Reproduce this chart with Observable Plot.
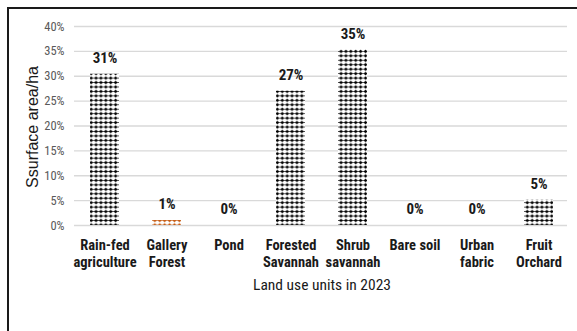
<!DOCTYPE html>
<html>
<head>
<meta charset="utf-8">
<script src="https://cdn.jsdelivr.net/npm/d3@7"></script>
<script src="https://cdn.jsdelivr.net/npm/@observablehq/plot@0.6"></script>
<style>
  html, body { margin: 0; padding: 0; background: #fff; overflow: hidden; }
  #chart svg { display: block; max-width: none; }
</style>
</head>
<body>
<div id="chart"></div>
<script>
const categories = ["Rain-fed\nagriculture", "Gallery\nForest", "Pond", "Forested\nSavannah", "Shrub\nsavannah", "Bare soil", "Urban\nfabric", "Fruit\nOrchard"];
const values = [30.4, 1.0, 0.0, 27.0, 35.3, 0.0, 0.0, 5.1];
const valueLabels = ["31%", "1%", "0%", "27%", "35%", "0%", "0%", "5%"];
const yTicks = [0, 5, 10, 15, 20, 25, 30, 35, 40];
const yTitle = "Ssurface area/ha";
const xTitle = "Land use units in 2023";

const data = categories.map((c, i) => ({cat: c, value: values[i], label: valueLabels[i]}));
const narrow = "'Roboto Condensed', 'Liberation Sans Narrow', 'Arial Narrow', sans-serif";

const chart = Plot.plot({
  width: 577,
  height: 331,
  marginLeft: 74,
  marginRight: 7,
  marginTop: 26,
  marginBottom: 106,
  style: {fontFamily: narrow, background: "#fff"},
  x: {domain: categories, paddingInner: 0.53, paddingOuter: 0.265, label: null},
  y: {domain: [0, 40], label: null},
  marks: [
    Plot.gridY(yTicks, {stroke: "#d9d9d9", strokeOpacity: 1, strokeWidth: 1.3}),
    Plot.axisY(yTicks, {tickSize: 0, tickPadding: 10, tickFormat: d => d + "%", fontSize: 12.5, fill: "#595959", label: null}),
    Plot.axisX({tickSize: 0, tickPadding: 12, fontSize: 14.5, fontWeight: "bold", fill: "#1a1a1a", lineHeight: 1.2, label: null}),
    Plot.barY(data, {x: "cat", y: "value", fill: d => d.cat.startsWith("Gallery") ? "url(#diaOrange)" : "url(#diaBlack)"}),
    Plot.text(data, {x: "cat", y: "value", text: "label", dy: -16, fontSize: 15, fontWeight: "bold", fill: "#1a1a1a"})
  ]
});

const svg = d3.select(chart);
const defs = svg.insert("defs", ":first-child");
function diamondPattern(id, color) {
  const p = defs.append("pattern").attr("id", id)
    .attr("patternUnits", "userSpaceOnUse")
    .attr("width", 4.9).attr("height", 4.45)
    .attr("x", 0.5).attr("y", 0.2);
  p.append("rect").attr("width", 4.9).attr("height", 4.45).attr("fill", "#fff");
  p.append("path").attr("d", "M2.45,0.5 L4.3,2.2 L2.45,3.9 L0.6,2.2 Z").attr("fill", color);
  p.append("rect").attr("x", 0).attr("y", 1.9).attr("width", 4.9).attr("height", 0.6).attr("fill", color);
}
diamondPattern("diaBlack", "#000");
diamondPattern("diaOrange", "#c55a11");

svg.append("text").attr("transform", "translate(38,127) rotate(-90)")
  .attr("text-anchor", "middle").attr("font-family", "'Liberation Sans', Arial, sans-serif")
  .attr("font-size", 16).attr("fill", "#1a1a1a").text(yTitle);

svg.append("text").attr("x", 322).attr("y", 290)
  .attr("text-anchor", "middle").attr("font-family", narrow)
  .attr("font-size", 15.5).attr("fill", "#1a1a1a").text(xTitle);

// right strip kept blank, then the outer frame (only its top and left edges fall inside the picture)
svg.append("rect").attr("x", 567).attr("y", 10).attr("width", 12).attr("height", 325).attr("fill", "#fff");
svg.append("path").attr("d", "M8,331 L8,8 L577,8")
  .attr("fill", "none").attr("stroke", "#1a1a1a").attr("stroke-width", 2);

document.getElementById("chart").appendChild(chart);
</script>
</body>
</html>
